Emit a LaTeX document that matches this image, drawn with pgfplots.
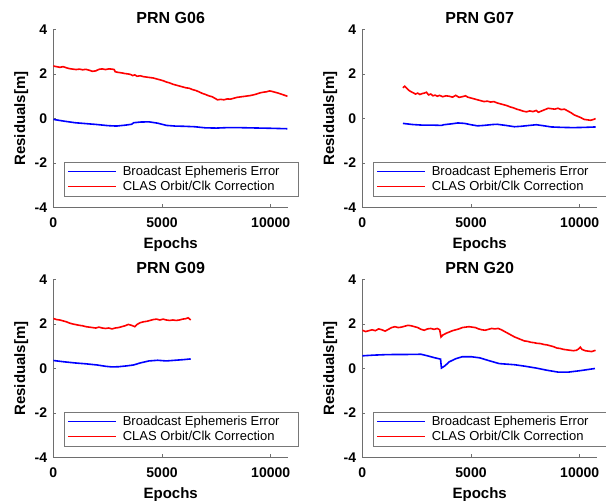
\documentclass[border=0pt]{standalone}
\usepackage{fontspec}
\setmainfont{Liberation Sans}
\usepackage{pgfplots}
\pgfplotsset{compat=1.18}

\definecolor{axisgray}{RGB}{110,110,110}
\definecolor{legendgray}{RGB}{120,120,120}

\newcommand{\tickfont}{\fontsize{14}{16}\selectfont\bfseries}
\newcommand{\labfont}{\fontsize{15}{17}\selectfont\bfseries}
\newcommand{\titfont}{\fontsize{16}{18}\selectfont\bfseries}
\newcommand{\legfont}{\fontsize{13}{15}\selectfont}
\newcommand{\legtext}[1]{\hspace{4pt}\makebox[170pt][l]{#1}}

\pgfplotsset{
  residual/.style={
    scale only axis,
    width=234.8pt, height=178pt,
    xmin=0, xmax=10800, ymin=-4, ymax=4,
    axis x line*=bottom, axis y line*=left,
    axis line style={axisgray, line width=0.6pt},
    xtick={0,5000,10000}, ytick={-4,-2,0,2,4},
    tick style={axisgray, line width=0.5pt},
    major tick length=3pt, tick align=inside,
    scaled x ticks=false,
    /pgf/number format/.cd, 1000 sep={}, assume math mode=true,
    /pgfplots/.cd,
    tick label style={font=\tickfont, text=black},
    xticklabel style={anchor=north, inner sep=0pt, yshift=-10.5pt},
    yticklabel style={anchor=east, inner sep=0pt, xshift=-6pt},
    xlabel={Epochs}, ylabel={Residuals[m]},
    xlabel style={font=\labfont, at={(axis description cs:0.5,0)}, anchor=north, inner sep=0pt, yshift=-30pt},
    ylabel style={font=\labfont, at={(axis description cs:-0.137,0.5)}, anchor=center, inner sep=0pt},
    title style={font=\titfont, at={(axis description cs:0.5,1)}, anchor=base, inner sep=0pt, yshift=0pt},
    legend style={at={(axis description cs:0.0456,0.064)}, anchor=south west,
      draw=legendgray, fill=white, font=\legfont,
      inner xsep=3pt, inner ysep=2pt, row sep=0pt},
    legend cell align=left,
  },
}

\begin{document}
\begin{tikzpicture}
\useasboundingbox (0pt,0pt) rectangle (606pt,501pt);

% ---------------- PRN G06 ----------------
\begin{axis}[residual, at={(53.3pt,293.5pt)}, anchor=south west, title={PRN G06},
  legend image code/.code={\draw[#1, line width=1.6pt] (0pt,0pt) -- (48pt,0pt);}]
\addplot[blue, line width=1.6pt] coordinates {
(0,-0.04) (500,-0.12) (1000,-0.19) (1500,-0.23) (2000,-0.27) (2500,-0.32)
(2900,-0.34) (3300,-0.30) (3600,-0.26) (3700,-0.19) (4000,-0.16) (4400,-0.15)
(4800,-0.21) (5200,-0.31) (5600,-0.34) (6000,-0.35) (6500,-0.37) (7000,-0.42)
(7500,-0.43) (8000,-0.41) (8500,-0.41) (9000,-0.42) (9500,-0.43) (10000,-0.44)
(10770,-0.46)};
\addlegendentry{\legtext{Broadcast Ephemeris Error}}
\addplot[red, line width=1.6pt] coordinates {
(0,2.36) (150,2.33) (300,2.30) (450,2.33) (600,2.28) (750,2.24) (900,2.22)
(1050,2.20) (1200,2.22) (1350,2.19) (1500,2.21) (1650,2.17) (1800,2.12)
(1950,2.14) (2100,2.21) (2250,2.23) (2400,2.20) (2550,2.23) (2700,2.22)
(2800,2.20) (2850,2.10) (3000,2.07) (3150,2.05) (3300,2.02) (3450,2.00)
(3550,1.98) (3650,1.93) (3750,1.96) (3850,1.90) (4000,1.92) (4150,1.88)
(4300,1.86) (4450,1.84) (4600,1.82) (4750,1.78) (4900,1.74) (5050,1.70)
(5200,1.64) (5350,1.60) (5500,1.54) (5650,1.50) (5800,1.46) (5950,1.42)
(6100,1.38) (6250,1.36) (6400,1.30) (6550,1.26) (6700,1.20) (6850,1.13)
(7000,1.08) (7150,1.02) (7300,0.98) (7450,0.90) (7550,0.84) (7700,0.86)
(7850,0.84) (8000,0.88) (8150,0.87) (8300,0.91) (8450,0.95) (8600,0.97)
(8750,0.99) (8900,1.01) (9050,1.03) (9200,1.06) (9350,1.10) (9500,1.15)
(9650,1.18) (9800,1.20) (9950,1.24) (10050,1.22) (10200,1.18) (10350,1.14)
(10500,1.09) (10650,1.04) (10770,1.00)};
\addlegendentry{\legtext{CLAS Orbit/Clk Correction}}
\end{axis}

% ---------------- PRN G07 ----------------
\begin{axis}[residual, at={(362.3pt,293.5pt)}, anchor=south west, title={PRN G07},
  legend image code/.code={\draw[#1, line width=1.6pt] (0pt,0pt) -- (48pt,0pt);}]
\addplot[blue, line width=1.6pt] coordinates {
(1870,-0.22) (2300,-0.27) (2800,-0.30) (3300,-0.30) (3650,-0.31) (3750,-0.28)
(4100,-0.24) (4400,-0.20) (4700,-0.22) (5000,-0.28) (5300,-0.33) (5600,-0.31)
(6000,-0.27) (6200,-0.26) (6600,-0.31) (7000,-0.37) (7300,-0.35) (7700,-0.31)
(8000,-0.28) (8300,-0.32) (8700,-0.38) (9200,-0.40) (9700,-0.41) (10200,-0.40)
(10730,-0.38)};
\addlegendentry{\legtext{Broadcast Ephemeris Error}}
\addplot[red, line width=1.6pt] coordinates {
(1870,1.38) (1950,1.45) (2050,1.35) (2150,1.26) (2250,1.20) (2350,1.15)
(2450,1.10) (2550,1.14) (2650,1.08) (2750,1.12) (2850,1.14) (2950,1.18)
(3050,1.06) (3150,1.10) (3250,1.02) (3350,1.05) (3450,1.00) (3550,1.04)
(3700,0.98) (3850,1.02) (4000,1.00) (4150,0.96) (4300,1.04) (4450,0.95)
(4600,0.98) (4750,1.02) (4850,0.96) (5000,0.92) (5150,0.88) (5300,0.84)
(5450,0.80) (5600,0.76) (5750,0.78) (5900,0.74) (6050,0.76) (6200,0.70)
(6350,0.66) (6500,0.62) (6650,0.58) (6800,0.52) (6950,0.48) (7100,0.42)
(7250,0.38) (7400,0.33) (7550,0.30) (7700,0.34) (7850,0.31) (8000,0.36)
(8100,0.28) (8250,0.34) (8400,0.40) (8550,0.46) (8700,0.44) (8850,0.42)
(9000,0.46) (9150,0.40) (9300,0.42) (9450,0.34) (9600,0.26) (9750,0.16)
(9900,0.10) (10050,0.04) (10200,-0.04) (10350,-0.06) (10500,-0.08)
(10650,-0.04) (10730,0.00)};
\addlegendentry{\legtext{CLAS Orbit/Clk Correction}}
\end{axis}

% ---------------- PRN G09 ----------------
\begin{axis}[residual, at={(53.3pt,43.5pt)}, anchor=south west, title={PRN G09},
  legend image code/.code={\draw[#1, line width=1.6pt] (0pt,0pt) -- (48pt,0pt);}]
\addplot[blue, line width=1.6pt] coordinates {
(0,0.36) (500,0.30) (1000,0.25) (1500,0.21) (2000,0.16) (2400,0.10)
(2700,0.07) (3000,0.08) (3400,0.12) (3700,0.16) (4000,0.25) (4400,0.34)
(4800,0.37) (5200,0.34) (5600,0.37) (6000,0.40) (6320,0.43)};
\addlegendentry{\legtext{Broadcast Ephemeris Error}}
\addplot[red, line width=1.6pt] coordinates {
(0,2.25) (150,2.20) (300,2.18) (450,2.14) (600,2.10) (750,2.04) (900,2.00)
(1050,1.97) (1200,1.94) (1350,1.92) (1500,1.88) (1650,1.86) (1800,1.84)
(1950,1.82) (2100,1.86) (2250,1.82) (2400,1.80) (2550,1.82) (2700,1.78)
(2850,1.82) (3000,1.84) (3150,1.88) (3300,1.92) (3450,1.98) (3600,1.94)
(3750,1.88) (3850,1.98) (4000,2.06) (4150,2.10) (4300,2.12) (4450,2.16)
(4600,2.20) (4750,2.22) (4900,2.18) (5050,2.22) (5200,2.18) (5350,2.16)
(5500,2.18) (5650,2.16) (5800,2.18) (5950,2.22) (6100,2.24) (6200,2.28)
(6320,2.18)};
\addlegendentry{\legtext{CLAS Orbit/Clk Correction}}
\end{axis}

% ---------------- PRN G20 ----------------
\begin{axis}[residual, at={(362.3pt,43.5pt)}, anchor=south west, title={PRN G20},
  legend image code/.code={\draw[#1, line width=1.6pt] (0pt,0pt) -- (48pt,0pt);}]
\addplot[blue, line width=1.6pt] coordinates {
(0,0.57) (500,0.60) (1000,0.62) (1500,0.63) (2000,0.63) (2700,0.64)
(3000,0.57) (3300,0.49) (3600,0.42) (3640,0.02) (3800,0.12) (4000,0.30)
(4300,0.44) (4600,0.53) (5000,0.53) (5400,0.48) (5800,0.36) (6300,0.22)
(7000,0.17) (7500,0.10) (8000,0.02) (8500,-0.08) (9000,-0.16) (9500,-0.16)
(10000,-0.10) (10700,0.00)};
\addlegendentry{\legtext{Broadcast Ephemeris Error}}
\addplot[red, line width=1.6pt] coordinates {
(0,1.72) (150,1.66) (300,1.70) (450,1.74) (600,1.70) (750,1.78) (900,1.74)
(1050,1.68) (1200,1.76) (1350,1.84) (1500,1.88) (1650,1.84) (1800,1.86)
(1950,1.90) (2100,1.94) (2250,1.92) (2400,1.88) (2550,1.84) (2700,1.76)
(2850,1.72) (3000,1.78) (3150,1.80) (3300,1.76) (3450,1.80) (3560,1.74)
(3620,1.42) (3700,1.50) (3850,1.58) (4000,1.64) (4150,1.70) (4300,1.74)
(4450,1.78) (4600,1.84) (4750,1.86) (4900,1.88) (5050,1.86) (5200,1.84)
(5350,1.78) (5500,1.74) (5650,1.72) (5800,1.76) (5950,1.80) (6100,1.78)
(6250,1.80) (6400,1.74) (6550,1.66) (6700,1.58) (6850,1.50) (7000,1.42)
(7150,1.36) (7300,1.30) (7450,1.24) (7600,1.22) (7750,1.18) (7900,1.16)
(8050,1.13) (8200,1.12) (8350,1.08) (8500,1.06) (8650,1.02) (8800,0.98)
(8950,0.92) (9100,0.90) (9250,0.86) (9400,0.84) (9550,0.82) (9700,0.80)
(9850,0.82) (9950,0.88) (10030,0.96) (10100,0.86) (10250,0.80) (10400,0.78)
(10550,0.76) (10730,0.82)};
\addlegendentry{\legtext{CLAS Orbit/Clk Correction}}
\end{axis}
\end{tikzpicture}
\end{document}
